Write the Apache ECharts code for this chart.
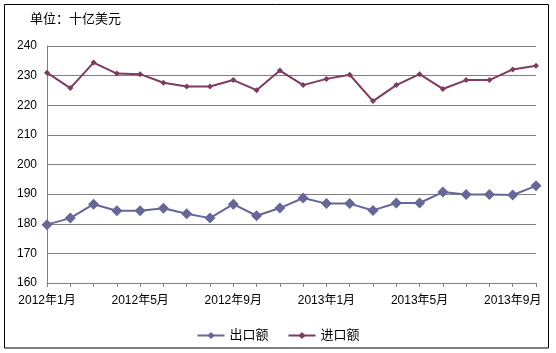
<!DOCTYPE html>
<html>
<head>
<meta charset="utf-8">
<script src="https://cdn.jsdelivr.net/npm/echarts@6/dist/echarts.min.js"></script>
<style>html,body{margin:0;padding:0;background:#fff;}#c{width:556px;height:353px;}</style>
</head>
<body>
<div id="c"></div>
<script>
var categories = ['2012年1月','2012年2月','2012年3月','2012年4月','2012年5月','2012年6月','2012年7月','2012年8月','2012年9月','2012年10月','2012年11月','2012年12月',
  '2013年1月','2013年2月','2013年3月','2013年4月','2013年5月','2013年6月','2013年7月','2013年8月','2013年9月','2013年10月'];
var exportValues = [179.7,181.9,186.6,184.4,184.4,185.2,183.4,181.9,186.6,182.7,185.3,188.7,186.8,186.8,184.5,187.0,187.0,190.7,189.9,189.9,189.7,192.8];
var importValues = [231.0,225.8,234.4,230.7,230.5,227.6,226.3,226.3,228.5,225.1,231.7,226.8,228.9,230.3,221.4,226.8,230.5,225.5,228.5,228.5,232.1,233.3];
var yTicks = [160,170,180,190,200,210,220,230,240];

var font = 'Liberation Sans, "Noto Sans CJK SC", sans-serif';
var chart = echarts.init(document.getElementById('c'), null, {renderer:'canvas'});
chart.setOption({
  animation: false,
  backgroundColor: '#fff',
  textStyle: {fontFamily: font},
  title: {
    text: '单位：十亿美元', left: 30, top: 13, padding: 0,
    textStyle: {fontSize: 13, fontWeight: 'normal', color: '#000', fontFamily: font}
  },
  graphic: [{
    type: 'rect', shape: {x: 4.5, y: 4.5, width: 544, height: 343.5},
    style: {fill: 'none', stroke: '#000', lineWidth: 1}, silent: true, z: 100
  }],
  legend: {
    bottom: 6, left: 'center', itemWidth: 27, itemHeight: 9, itemGap: 19,
    textStyle: {fontSize: 13, color: '#000', fontFamily: font},
    data: ['出口额','进口额']
  },
  grid: {left: 47, right: 20, top: 46, bottom: 70, containLabel: false},
  xAxis: {
    type: 'category', data: categories, boundaryGap: false,
    axisLine: {lineStyle: {color: '#808080', width: 1}},
    axisTick: {show: true, interval: 0, length: 4, lineStyle: {color: '#808080'}},
    axisLabel: {interval: 3, color: '#000', fontSize: 12, margin: 12, fontFamily: font},
    splitLine: {show: false}
  },
  yAxis: {
    type: 'value', min: yTicks[0], max: yTicks[yTicks.length-1], interval: 10,
    axisLine: {show: true, lineStyle: {color: '#808080', width: 1}},
    axisTick: {show: false},
    axisLabel: {color: '#000', fontSize: 12, margin: 10, fontFamily: font},
    splitLine: {lineStyle: {color: '#808080', width: 1}}
  },
  series: [{
    name: '出口额', type: 'line', data: exportValues,
    symbol: 'diamond', symbolSize: 11,
    lineStyle: {color: '#666699', width: 2},
    itemStyle: {color: '#666699'}
  },{
    name: '进口额', type: 'line', data: importValues,
    symbol: 'diamond', symbolSize: 6,
    lineStyle: {color: '#7E3B61', width: 2},
    itemStyle: {color: '#7E3B61'}
  }]
});
</script>
</body>
</html>
